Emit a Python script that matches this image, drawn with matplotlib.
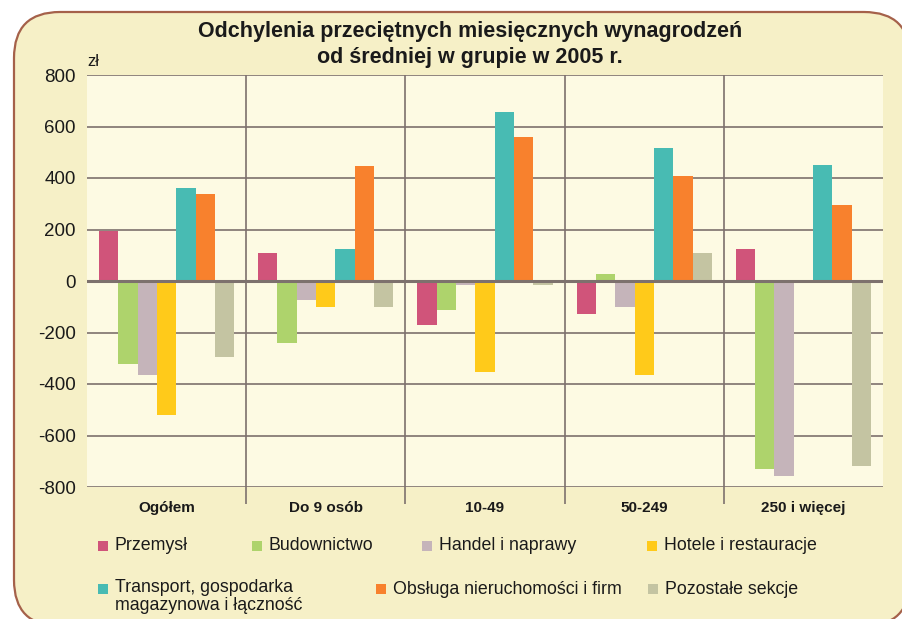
import numpy as np
import matplotlib
matplotlib.use("Agg")
from matplotlib import pyplot as plt
from matplotlib.patches import FancyBboxPatch, Rectangle

plt.rcParams['font.family'] = ['Liberation Sans', 'DejaVu Sans']

# dane
groups = ["Ogółem", "Do 9 osób", "10-49", "50-249", "250 i więcej"]
series = ["Przemysł", "Budownictwo", "Handel i naprawy", "Hotele i restauracje",
          "Transport, gospodarka\nmagazynowa i łączność",
          "Obsługa nieruchomości i firm", "Pozostałe sekcje"]
przemysl = [195, 110, -170, -128, 125]
budownictwo = [-323, -240, -114, 28, -731]
handel = [-365, -73, -16, -100, -758]
hotele = [-520, -100, -353, -366, np.nan]
transport = [363, 125, 657, 517, 449]
obsluga = [336, 447, 561, 407, 294]
pozostale = [-296, -100, -15, 110, -717]
values = [przemysl, budownictwo, handel, hotele, transport, obsluga, pozostale]
colors = ["#D0547A", "#AED36C", "#C5B4BA", "#FFCA1A", "#48BBB3", "#F8812D", "#C4C4A2"]
yticks = [-800, -600, -400, -200, 0, 200, 400, 600, 800]

W, H = 903, 619
fig = plt.figure(figsize=(W / 100, H / 100), dpi=100)
fig.patch.set_facecolor("white")


def px(x, y):
    # piksele (od lewego górnego rogu) -> cale
    return x / 100, (H - y) / 100


# zaokrąglona ramka tła
x0, y0 = px(14, 626)
frame = FancyBboxPatch((x0, y0), (910 - 14) / 100, (626 - 12) / 100,
                       boxstyle="round,pad=0,rounding_size=0.46",
                       transform=fig.dpi_scale_trans, facecolor="#F6F0C7",
                       edgecolor="#A5614A", linewidth=1.6, zorder=-5)
fig.patches.append(frame)

ax = fig.add_axes([87 / W, (H - 487) / H, (883 - 87) / W, (487 - 75) / H])
ax.set_facecolor("#FDFAE3")
for s in ax.spines.values():
    s.set_visible(False)

x = np.arange(len(groups))
w = 0.85 / len(series)
for j, (vals, col) in enumerate(zip(values, colors)):
    ax.bar(x + (j - 3) * w, vals, width=w, color=col, zorder=2)

ax.set_xlim(-0.5, len(groups) - 0.5)
ax.set_ylim(-800, 800)
ax.set_yticks(yticks)
ax.set_yticklabels([str(t) for t in yticks], fontsize=13.5, color="#1A1A1A")
ax.tick_params(axis="y", length=0, pad=8)
ax.grid(axis="y", color="#7D716D", linewidth=1.2, zorder=1)
ax.set_axisbelow(True)
ax.axhline(0, color="#7D716D", linewidth=2.2, zorder=3)

# granice grup z kreskami pod osią
ax.set_xticks(x)
ax.set_xticklabels(groups, fontsize=11, fontweight="bold", color="#1A1A1A")
ax.tick_params(axis="x", which="major", length=0, pad=10)
ax.set_xticks(x[:-1] + 0.5, minor=True)
ax.tick_params(axis="x", which="minor", length=12, width=1.2, color="#7D716D")
ax.grid(axis="x", which="minor", color="#7D716D", linewidth=1.2, zorder=1)

ax.text(0, 1.015, "zł", transform=ax.transAxes, fontsize=12, color="#1A1A1A",
        ha="left", va="bottom")

fig.text(470 / W, 1 - 32 / H, "Odchylenia przeciętnych miesięcznych wynagrodzeń",
         ha="center", va="center", fontsize=15.5, fontweight="bold", color="#1A1A1A")
fig.text(470 / W, 1 - 57 / H, "od średniej w grupie w 2005 r.",
         ha="center", va="center", fontsize=15.5, fontweight="bold", color="#1A1A1A")

# legenda
leg_pos = [(98, 546), (252, 546), (422, 546), (647, 546),
           (98, 589), (376, 589), (648, 589)]
for name, col, (lx, ly) in zip(series, colors, leg_pos):
    rx, ry = px(lx, ly + 5)
    fig.patches.append(Rectangle((rx, ry), 0.10, 0.10, transform=fig.dpi_scale_trans,
                                 facecolor=col, edgecolor="none"))
    tx, ty = px(lx + 17, ly)
    if "\n" in name:
        tx, ty = px(lx + 17, ly - 10)
        fig.text(tx / (W / 100), ty / (H / 100), name, fontsize=12.8, color="#1A1A1A",
                 ha="left", va="top", linespacing=1.05)
    else:
        fig.text(tx / (W / 100), ty / (H / 100), name, fontsize=12.8, color="#1A1A1A",
                 ha="left", va="center")

fig.savefig("out.png", dpi=100)
